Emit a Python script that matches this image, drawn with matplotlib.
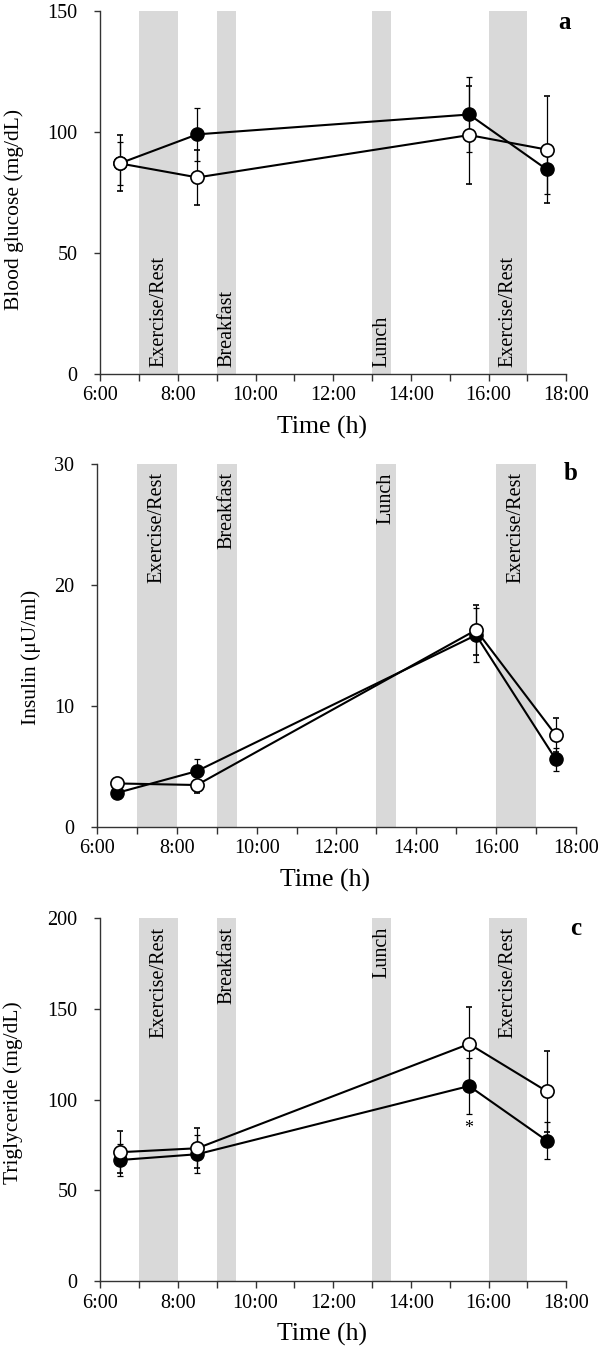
import matplotlib
matplotlib.use("Agg")
import matplotlib.pyplot as plt

plt.rcParams['font.family'] = ['Liberation Serif', 'DejaVu Serif']

# time points (hours)
times = [6.5, 8.5, 15.5, 17.5]

# panel a - blood glucose (mg/dL)
glu_filled = [87, 99, 107.2, 84.5]
glu_filled_err = [9, 11, 15.3, 10.2]
glu_open = [87, 81.2, 98.7, 92.7]
glu_open_err = [11.6, 11.4, 20.4, 22.2]

# panel b - insulin (uU/ml)
ins_filled = [2.8, 4.6, 15.85, 5.57]
ins_filled_err = [0.4, 0.97, 2.2, 0.97]
ins_open = [3.58, 3.45, 16.27, 7.58]
ins_open_err = [0.4, 0.7, 2.1, 1.38]

# panel c - triglyceride (mg/dL)
tg_filled = [66.7, 69.9, 107.5, 77.4]
tg_filled_err = [9, 10.5, 15.2, 10.3]
tg_open = [71, 73.2, 130.7, 104.6]
tg_open_err = [11.5, 11, 20.6, 22.2]

# shaded events (start, end, label)
band_starts = [7, 9, 13, 16]
band_ends = [8, 9.5, 13.5, 17]
band_labels = ["Exercise/Rest", "Breakfast", "Lunch", "Exercise/Rest"]

hour_ticks = list(range(6, 19))
hour_labels = [("%d:00" % h) if h % 2 == 0 else "" for h in hour_ticks]


def panel(fig, rect, filled, filled_err, opn, opn_err, ymax, ystep, ylabel, letter,
          labels_top, ylab_xy, letter_xy):
    ax = fig.add_axes(rect)
    for s, e, lab in zip(band_starts, band_ends, band_labels):
        ax.axvspan(s, e, color='#d9d9d9', lw=0, zorder=0)
        if labels_top:
            ax.text((s + e) / 2, ymax * 0.977, lab, rotation=90, ha='center', va='top',
                    fontsize=14.5, zorder=1)
        else:
            ax.text((s + e) / 2, ymax * 0.02, lab, rotation=90, ha='center', va='bottom',
                    fontsize=14.5, zorder=1)
    ax.errorbar(times, filled, yerr=filled_err, color='black', lw=1.5, elinewidth=0.9,
                capsize=2, capthick=0.9, marker='o', ms=9.5, mfc='black', mec='black', zorder=3)
    ax.errorbar(times, opn, yerr=opn_err, color='black', lw=1.5, elinewidth=0.9,
                capsize=2, capthick=0.9, marker='o', ms=9.5, mfc='white', mec='black',
                mew=1.2, zorder=4)
    ax.set_xlim(6, 18)
    ax.set_ylim(0, ymax)
    ax.set_xticks(hour_ticks)
    ax.set_xticklabels(hour_labels)
    ax.set_yticks(list(range(0, ymax + 1, ystep)))
    for side in ['top', 'right']:
        ax.spines[side].set_visible(False)
    for side in ['left', 'bottom']:
        ax.spines[side].set_color('#333333')
        ax.spines[side].set_linewidth(1)
    ax.tick_params(axis='x', direction='out', length=5, width=1, colors='#333333',
                   labelcolor='black', labelsize=14.5, pad=4)
    ax.tick_params(axis='y', direction='out', length=4, width=1, colors='#333333',
                   labelcolor='black', labelsize=14.5, pad=12.5)
    ax.set_xlabel("Time (h)", fontsize=18.5)
    ax.xaxis.set_label_coords(0.475, -0.115)
    ax.set_ylabel(ylabel, fontsize=15.5)
    ax.yaxis.set_label_coords(*ylab_xy)
    ax.text(letter_xy[0], letter_xy[1], letter, transform=ax.transAxes, ha='center',
            va='center', fontsize=18, fontweight='bold')
    return ax


fig = plt.figure(figsize=(5.98, 13.48), dpi=100)

panel(fig, [0.1677, 0.7226, 0.7791, 0.2693], glu_filled, glu_filled_err, glu_open, glu_open_err,
      150, 50, "Blood glucose (mg/dL)", "a", False, (-0.164, 0.452), (0.997, 0.968))
panel(fig, [0.1625, 0.3867, 0.8003, 0.2691], ins_filled, ins_filled_err, ins_open, ins_open_err,
      30, 10, "Insulin (\u03bcU/ml)", "b", True, (-0.117, 0.466), (0.989, 0.975))
axc = panel(fig, [0.1677, 0.0497, 0.7791, 0.2691], tg_filled, tg_filled_err, tg_open, tg_open_err,
            200, 50, "Triglyceride (mg/dL)", "c", True, (-0.166, 0.518), (1.02, 0.972))
axc.text(15.5, 84, "*", ha='center', va='center', fontsize=13)

fig.savefig("out.png", dpi=100)
